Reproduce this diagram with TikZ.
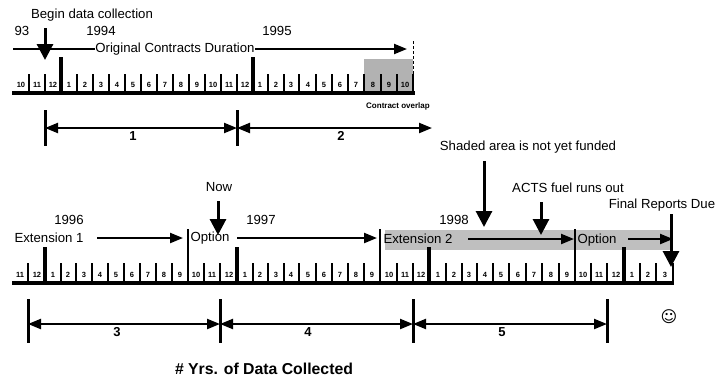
\documentclass[tikz,border=0pt]{standalone}
\usepackage{fontspec}
\setmainfont{Liberation Sans}
\newfontfamily\symfont{DejaVu Sans}
\usetikzlibrary{arrows.meta,positioning}
\tikzset{
 lbl/.style={inner sep=0pt,font=\fontsize{13.2}{13.2}\selectfont},
 monthlbl/.style={inner sep=0pt,font=\fontsize{7.5}{7.5}\selectfont\bfseries},
 numlbl/.style={inner sep=0pt,font=\fontsize{13}{13}\selectfont\bfseries},
 base/.style={line width=4pt},
 tick/.style={line width=2.8pt},
 bigtick/.style={line width=3.8pt},
 bar/.style={line width=3pt},
 span/.style={{Triangle[length=13pt,width=10pt]}-{Triangle[length=13pt,width=10pt]},line width=2.2pt},
 arrow/.style={-{Triangle[length=13pt,width=10pt]},line width=2.2pt},
 downarrow/.style={-{Triangle[length=16pt,width=16pt]},line width=3pt},
 shade/.style={fill=gray!50,draw=none}
}
\begin{document}
\begin{tikzpicture}[x=1pt,y=-1pt]
\useasboundingbox (0,0) rectangle (720,380);
% shaded parts
\fill[shade,fill=gray!60] (364,59) rectangle (413,92);
\fill[shade] (385,230) rectangle (670,250);
\draw[densely dashed,line width=1pt] (413,41)--(413,74);
% upper scale
\draw[base] (12,93)--(415,93);
\foreach \x/\m in {29/10,45/11,61/12,77/1,93/2,109/3,125/4,141/5,157/6,173/7,189/8,205/9,221/10,237/11,253/12,268/1,284/2,299/3,316/4,332/5,348/6,364/7,381/8,397/9,413/10}{
 \draw[tick] (\x,93)--(\x,74);
 \node[monthlbl] (up\x) at ({\x-8},85) {\m};
}
\foreach \x in {61,253}
 \draw[bigtick] (\x,93)--(\x,57);
% lower scale
\draw[base] (12,283)--(674,283);
\foreach \x/\m in {28/11,45/12,61/1,76/2,92/3,108/4,124/5,140/6,156/7,172/8,188/9,204/10,220/11,237/12,253/1,268/2,284/3,299/4,316/5,332/6,348/7,364/8,380/9,397/10,413/11,429/12,446/1,462/2,477/3,493/4,509/5,526/6,542/7,559/8,575/9,591/10,607/11,624/12,640/1,656/2,673/3}{
 \draw[tick] (\x,283)--(\x,263);
 \node[monthlbl] (lo\x) at ({\x-8},275) {\m};
}
\foreach \x in {45,237,429,624}
 \draw[bigtick] (\x,283)--(\x,247);
\foreach \x in {188,380,575}
 \draw[tick] (\x,283)--(\x,229);
% upper labels
\node[lbl] (begin) at (92,15) {Begin data collection};
\node[lbl] (y93) at (22,31) {93};
\node[lbl] (y94) at (101,31) {1994};
\node[lbl] (y95) at (277,31) {1995};
\node[lbl] (orig) at (175,49) {Original Contracts Duration};
\node[inner sep=0pt,font=\fontsize{8}{8}\selectfont\bfseries] (overlap) at (398,106) {Contract overlap};
\coordinate (origL) at (13,49);
\coordinate (origR) at (407,49);
\coordinate (beginA) at (45,28);
\coordinate (beginB) at (45,60);
\draw[line width=2.2pt] (origL)--(orig.west);
\draw[arrow] (orig.east)--(origR);
\draw[downarrow] (beginA)--(beginB);
% upper spans
\coordinate (a1) at (45,128);
\coordinate (a2) at (237,128);
\coordinate (a3) at (432,128);
\draw[bar] (45,110)--(45,146);
\draw[bar] (237,110)--(237,146);
\draw[span] (a1)--(a2);
\draw[span] (a2)--(a3);
\node[numlbl] (n1) at (133,136) {1};
\node[numlbl] (n2) at (341,136) {2};
% lower labels
\node[lbl] (shaded) at (528,147) {Shaded area is not yet funded};
\node[lbl] (now) at (219,187) {Now};
\node[lbl] (acts) at (568,188) {ACTS fuel runs out};
\node[lbl] (final) at (662,205) {Final Reports Due};
\node[lbl] (y96) at (69,220) {1996};
\node[lbl] (y97) at (261,220) {1997};
\node[lbl] (y98) at (454,220) {1998};
\node[lbl] (ext1) at (49,238) {Extension 1};
\node[lbl] (opt1) at (210,238) {Option};
\node[lbl] (ext2) at (418,239) {Extension 2};
\node[lbl] (opt2) at (597,240) {Option};
\coordinate (ext1R) at (97,238);
\coordinate (opt1L) at (183,238);
\coordinate (y97L) at (237,238);
\coordinate (ext2L) at (377,238);
\coordinate (ext2R) at (468,239);
\coordinate (opt2L) at (574,239);
\coordinate (opt2R) at (628,239);
\coordinate (endR) at (673,239);
\draw[arrow] (ext1R)--(opt1L);
\draw[arrow] (y97L)--(ext2L);
\draw[arrow] (ext2R)--(opt2L);
\draw[arrow] (opt2R)--(endR);
\coordinate (nowA) at (218,201);
\coordinate (nowB) at (218,235);
\coordinate (shadedA) at (484,161);
\coordinate (shadedB) at (484,227);
\coordinate (actsA) at (541,202);
\coordinate (actsB) at (541,235);
\coordinate (finalA) at (671,214);
\coordinate (finalB) at (671,267);
\draw[downarrow] (nowA)--(nowB);
\draw[downarrow] (shadedA)--(shadedB);
\draw[downarrow] (actsA)--(actsB);
\draw[downarrow] (finalA)--(finalB);
% lower spans
\coordinate (b1) at (28,324);
\coordinate (b2) at (220,324);
\coordinate (b3) at (413,324);
\coordinate (b4) at (607,324);
\foreach \x in {28,220,413,607}
 \draw[bar] (\x,299)--(\x,343);
\draw[span] (b1)--(b2);
\draw[span] (b2)--(b3);
\draw[span] (b3)--(b4);
\node[numlbl] (n3) at (117,332) {3};
\node[numlbl] (n4) at (308,332) {4};
\node[numlbl] (n5) at (502,332) {5};
\node[inner sep=0pt,font=\symfont\fontsize{16}{16}\selectfont] (smile) at (669,317) {☺};
\node[inner sep=0pt,font=\fontsize{15.8}{15.8}\selectfont\bfseries] (yrs) at (264,369) {\# Yrs. of Data Collected};
\end{tikzpicture}
\end{document}
